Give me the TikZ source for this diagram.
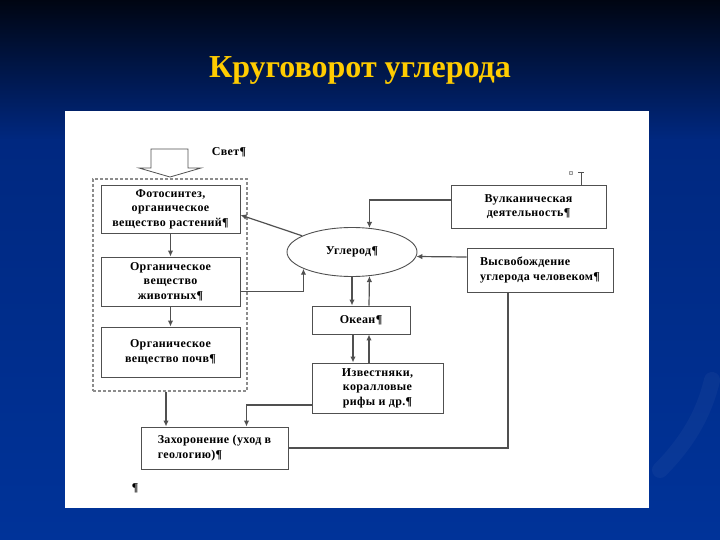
\documentclass[tikz,border=0pt]{standalone}
\usepackage{fontspec}
\setmainfont{Liberation Serif}
\newfontfamily\boxfont[LetterSpace=3]{Liberation Serif}
\usetikzlibrary{positioning,arrows.meta,shapes.geometric}
\definecolor{slideblue}{RGB}{0,51,153}
\definecolor{slidetop}{RGB}{0,5,18}
\definecolor{slidemid}{RGB}{0,40,128}
\definecolor{titlegold}{RGB}{255,204,0}
\definecolor{linegray}{RGB}{80,80,80}
\definecolor{dashgray}{RGB}{140,140,140}

\begin{document}
\begin{tikzpicture}[x=1pt,y=-1pt,
  box/.style={draw=linegray,line width=0.9pt,fill=white,inner sep=0pt,align=center,
    font=\fontsize{12}{14.5}\boxfont\bfseries},
  lnk/.style={draw=linegray,line width=1.2pt},
  arr/.style={lnk,-{Latex[length=6pt,width=5.5pt]}}]
\useasboundingbox (0,0) rectangle (720,540);
% slide background
\shade[top color=slidetop,bottom color=slidemid] (0,0) rectangle (720,140);
\shade[top color=slidemid,bottom color=slideblue] (0,140) rectangle (720,540);
\draw[line width=16pt,white,opacity=0.035,line cap=round] (660,470) .. controls (690,440) and (705,410) .. (712,380);
\node[titlegold,font=\fontsize{32}{36}\selectfont\bfseries] (ttl) at (360,70) {Круговорот углерода};
\fill[white] (65,111) rectangle (649,508);
% light
\draw[linegray,line width=0.8pt,fill=white] (151,149) -- (188,149) -- (188,168) -- (201,168)
  -- (170,177) -- (139,168) -- (151,168) -- cycle;
\node[font=\fontsize{12}{14}\boxfont\bfseries] (lght) at (229,152) {Свет¶};
% living matter
\node[draw=dashgray,dashed,dash pattern=on 3pt off 2pt,line width=1.3pt,inner sep=0pt,
  minimum width=154pt,minimum height=212pt] (grp) at (170,285) {};
\node[box,minimum width=139pt,minimum height=48pt] (phot) at (170.5,209)
  {Фотосинтез,\\органическое\\вещество растений¶};
\node[box,minimum width=139pt,minimum height=49pt] (anim) at (170.5,281.5)
  {Органическое\\вещество\\животных¶};
\node[box,minimum width=139pt,minimum height=50pt] (soil) at (170.5,352)
  {Органическое\\вещество почв¶};
% carbon and sources
\node[draw=linegray,line width=0.9pt,ellipse,inner sep=0pt,minimum width=130pt,minimum height=49pt,
  font=\fontsize{12}{14}\boxfont\bfseries] (carb) at (352,252) {Углерод¶};
\node[box,minimum width=155pt,minimum height=43pt] (volc) at (528.5,206.5)
  {Вулканическая\\деятельность¶};
\node[font=\fontsize{9}{10}\selectfont\bfseries,text=linegray] (anch) at (571,174) {¤};
\draw[linegray,line width=0.9pt] (581,172) -- (581,185) (578,172) -- (584,172) (578,185) -- (584,185);
\node[box,align=left,minimum width=146pt,minimum height=44pt] (hum) at (540,270)
  {Высвобождение\\углерода человеком¶};
\node[box,minimum width=98pt,minimum height=28pt] (ocn) at (361,320) {Океан¶};
\node[box,minimum width=131pt,minimum height=50pt] (lime) at (377.5,388)
  {Известняки,\\коралловые\\рифы и др.¶};
\node[box,align=left,minimum width=147pt,minimum height=42pt] (bur) at (214.5,448)
  {Захоронение (уход в\\геологию)¶};
\node[font=\fontsize{12}{14}\selectfont\bfseries] (pil) at (135,488) {¶};
% links
\draw[arr] (phot) -- (anim);
\draw[arr] (anim) -- (soil);
\draw[arr] (carb.162) -- ([yshift=-6pt]phot.east);
\draw[arr] ([yshift=-10pt]anim.east) -| (carb.199);
\draw[arr] ([yshift=6.5pt]volc.west) -| (carb.54);
\draw[arr] ([yshift=13pt]hum.west) -- (carb.-4);
\draw[arr] (carb.south) -- (carb.south |- ocn.north);
\draw[arr] ([xshift=8pt]ocn.north) -- (carb.-54);
\draw[arr] ([xshift=-8pt]ocn.south) -- ([xshift=-8pt]ocn.south |- lime.north);
\draw[arr] ([xshift=8pt]ocn.south |- lime.north) -- ([xshift=8pt]ocn.south);
\draw[arr] ([yshift=-17pt]lime.west) -| ([xshift=32pt]bur.north);
\draw[arr] ([xshift=-4pt]grp.south) -- ([xshift=-4pt]grp.south |- bur.north);
\draw[lnk] (bur.east) -| ([xshift=-32pt]hum.south);
\end{tikzpicture}
\end{document}
